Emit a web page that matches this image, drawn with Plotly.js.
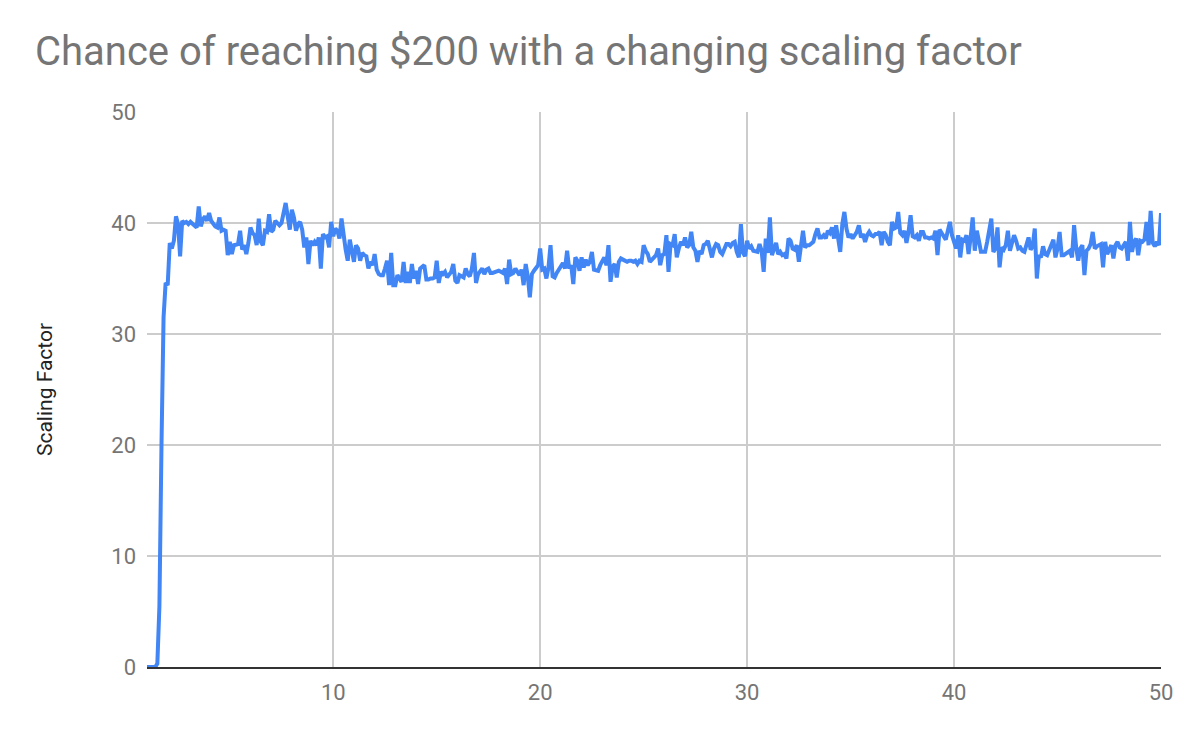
<!DOCTYPE html>
<html>
<head>
<meta charset="utf-8">
<script src="https://cdn.plot.ly/plotly-3.0.1.min.js"></script>
<style>
  html, body { margin: 0; padding: 0; background: #ffffff; }
  #chart { width: 1196px; height: 738px; }
</style>
</head>
<body>
<div id="chart"></div>
<script>
// Sampling of the horizontal axis (start value and step between points)
const xStart = 1;
const xStep = 0.1;

// Scaling factor values, one row per integer step of x (x = 1.0 ... 50.0)
const scalingFactor = [
  0, 0, 0, 0, 0, 0.3, 5.5, 20, 31.5, 34.6,
  34.4, 38.2, 37.7, 38.4, 40.6, 39.9, 37.0, 40.2, 40.0, 40.1,
  39.9, 40.1, 39.9, 39.7, 39.6, 41.5, 39.7, 40.3, 40.6, 40.2,
  40.9, 40.2, 39.9, 39.7, 39.6, 40.5, 39.3, 39.4, 39.3, 37.1,
  38.3, 37.2, 38.0, 38.1, 38.1, 39.3, 37.6, 38.0, 37.2, 38.2,
  39.6, 39.1, 38.9, 38.0, 40.4, 38.3, 38.0, 39.3, 39.2, 40.8,
  39.2, 39.4, 40.2, 40.0, 39.8, 40.0, 40.8, 41.8, 40.6, 39.4,
  41.2, 40.5, 39.3, 39.9, 40.1, 39.4, 37.8, 38.7, 36.3, 38.4,
  38.0, 38.3, 38.0, 38.7, 35.9, 39.0, 38.7, 38.8, 37.8, 40.1,
  38.8, 39.5, 39.3, 38.6, 40.4, 38.7, 37.6, 36.6, 38.5, 37.5,
  36.5, 38.0, 37.7, 36.6, 37.3, 37.1, 37.0, 35.9, 36.5, 36.2,
  37.2, 35.8, 35.4, 35.3, 35.3, 35.9, 36.6, 34.4, 37.3, 34.4,
  34.4, 35.3, 34.9, 34.7, 36.5, 34.6, 35.6, 34.6, 36.3, 35.0,
  35.7, 34.5, 35.9, 36.0, 36.2, 34.9, 34.9, 35.0, 35.0, 35.1,
  36.6, 34.6, 35.6, 35.4, 35.6, 35.1, 35.4, 35.6, 36.3, 34.8,
  34.6, 35.3, 35.2, 35.1, 35.9, 35.4, 35.2, 35.9, 37.3, 34.6,
  35.4, 35.6, 35.9, 35.4, 35.8, 35.9, 35.5, 35.5, 35.6, 35.6,
  35.7, 35.6, 35.5, 35.9, 34.5, 36.7, 35.4, 35.5, 35.9, 35.6,
  35.3, 35.8, 34.4, 36.3, 35.2, 33.3, 35.4, 35.7, 35.9, 36.2,
  37.7, 35.8, 35.9, 35.0, 36.0, 38.0, 35.2, 35.1, 35.5, 35.8,
  36.1, 36.4, 35.9, 37.5, 35.9, 36.2, 34.5, 36.9, 36.6, 35.7,
  36.9, 36.0, 36.7, 36.2, 36.5, 37.4, 35.8, 35.7, 35.7, 36.2,
  36.6, 36.9, 36.2, 38.0, 34.7, 36.1, 36.3, 35.1, 36.5, 36.8,
  36.7, 36.6, 36.5, 36.6, 36.6, 36.5, 36.6, 36.3, 36.6, 36.5,
  38.0, 37.5, 37.2, 36.5, 36.7, 36.8, 37.1, 37.7, 36.2, 37.1,
  37.2, 38.9, 35.6, 38.1, 38.0, 39.0, 36.9, 37.7, 38.3, 38.0,
  38.7, 37.8, 38.0, 39.2, 37.8, 37.5, 36.5, 37.5, 37.2, 38.0,
  38.1, 38.4, 37.7, 36.9, 37.7, 38.1, 38.0, 37.4, 37.2, 37.8,
  38.1, 38.1, 37.9, 38.2, 38.3, 37.4, 36.9, 39.9, 37.3, 37.0,
  38.4, 37.7, 37.9, 37.5, 37.4, 37.4, 38.1, 37.5, 35.6, 38.6,
  37.3, 40.5, 37.1, 37.6, 38.2, 37.2, 37.4, 37.1, 37.2, 36.8,
  38.6, 38.4, 37.7, 37.6, 38.0, 36.5, 37.8, 39.3, 37.8, 38.0,
  38.0, 38.1, 38.3, 39.0, 39.5, 38.7, 38.7, 38.9, 38.6, 39.3,
  39.1, 39.6, 38.6, 39.8, 38.6, 37.4, 39.9, 41.0, 39.5, 38.7,
  39.0, 38.6, 38.9, 39.2, 39.8, 38.7, 39.0, 38.3, 38.9, 39.2,
  38.9, 38.8, 39.0, 39.0, 39.2, 38.0, 39.2, 38.9, 38.3, 38.0,
  40.1, 39.5, 39.6, 41.0, 39.1, 38.9, 39.3, 38.2, 39.2, 40.7,
  38.8, 38.7, 38.9, 38.4, 39.2, 39.2, 38.7, 38.7, 38.6, 38.7,
  38.6, 39.3, 37.1, 39.4, 39.1, 38.7, 38.5, 39.3, 40.1, 38.9,
  38.3, 37.7, 38.9, 36.9, 38.5, 38.4, 38.9, 37.2, 38.7, 40.5,
  37.5, 39.3, 38.4, 37.4, 37.4, 37.4, 38.3, 39.2, 40.4, 37.4,
  37.7, 39.6, 36.0, 37.8, 37.6, 38.0, 39.3, 37.5, 38.1, 38.9,
  38.4, 37.7, 37.8, 37.5, 37.4, 38.2, 38.7, 37.6, 37.9, 39.5,
  35.0, 37.1, 36.9, 37.9, 37.2, 37.1, 37.6, 38.2, 38.5, 36.9,
  37.7, 39.2, 37.1, 37.1, 37.2, 37.4, 37.5, 36.9, 39.8, 37.8,
  36.6, 37.7, 38.0, 35.3, 37.5, 37.7, 38.1, 39.2, 37.7, 37.9,
  38.0, 38.1, 36.0, 38.3, 37.2, 37.7, 38.0, 36.8, 38.0, 38.3,
  37.8, 37.7, 38.0, 38.3, 36.6, 40.1, 37.4, 38.3, 38.6, 37.1,
  38.4, 38.3, 38.5, 40.1, 38.0, 41.1, 38.2, 37.9, 38.3, 38.0,
  40.9
];

// Tick labels
const xTicks = [10, 20, 30, 40, 50];
const yTicks = [0, 10, 20, 30, 40, 50];

const chartTitle = "Chance of reaching $200 with a changing scaling factor";
const yTitle = "Scaling Factor";

const trace = {
  type: "scatter",
  mode: "lines",
  x0: xStart,
  dx: xStep,
  y: scalingFactor,
  line: { color: "#4285F4", width: 4 },
  hoverinfo: "skip"
};

const layout = {
  width: 1196,
  height: 738,
  paper_bgcolor: "#ffffff",
  plot_bgcolor: "#ffffff",
  margin: { l: 147, r: 35, t: 112, b: 71, pad: 0 },
  showlegend: false,
  font: { family: "Roboto, Arial, sans-serif", color: "#757575" },
  title: {
    text: chartTitle,
    font: { family: "Roboto, Arial, sans-serif", size: 40, color: "#757575" },
    x: 0, xref: "container", xanchor: "left",
    y: 1, yref: "container", yanchor: "top",
    pad: { t: 37, l: 35 }
  },
  xaxis: {
    range: [1, 50],
    tickvals: xTicks,
    ticktext: xTicks.map(String),
    ticks: "",
    showgrid: true,
    gridcolor: "#cccccc",
    gridwidth: 1.5,
    zeroline: false,
    showline: true,
    linecolor: "#333333",
    linewidth: 2,
    tickfont: { family: "Roboto, Arial, sans-serif", size: 22, color: "#757575" },
    ticklabelstandoff: 5
  },
  yaxis: {
    range: [0, 50],
    tickvals: yTicks,
    ticktext: yTicks.map(String),
    ticks: "",
    showgrid: true,
    gridcolor: "#cccccc",
    gridwidth: 1.5,
    zeroline: false,
    showline: false,
    tickfont: { family: "Roboto, Arial, sans-serif", size: 22, color: "#757575" },
    ticklabelstandoff: 10,
    title: {
      text: yTitle,
      font: { family: "Roboto, Arial, sans-serif", size: 21, color: "#222222" },
      standoff: 52
    }
  }
};

Plotly.newPlot("chart", [trace], layout, { staticPlot: true, displayModeBar: false });
</script>
</body>
</html>
